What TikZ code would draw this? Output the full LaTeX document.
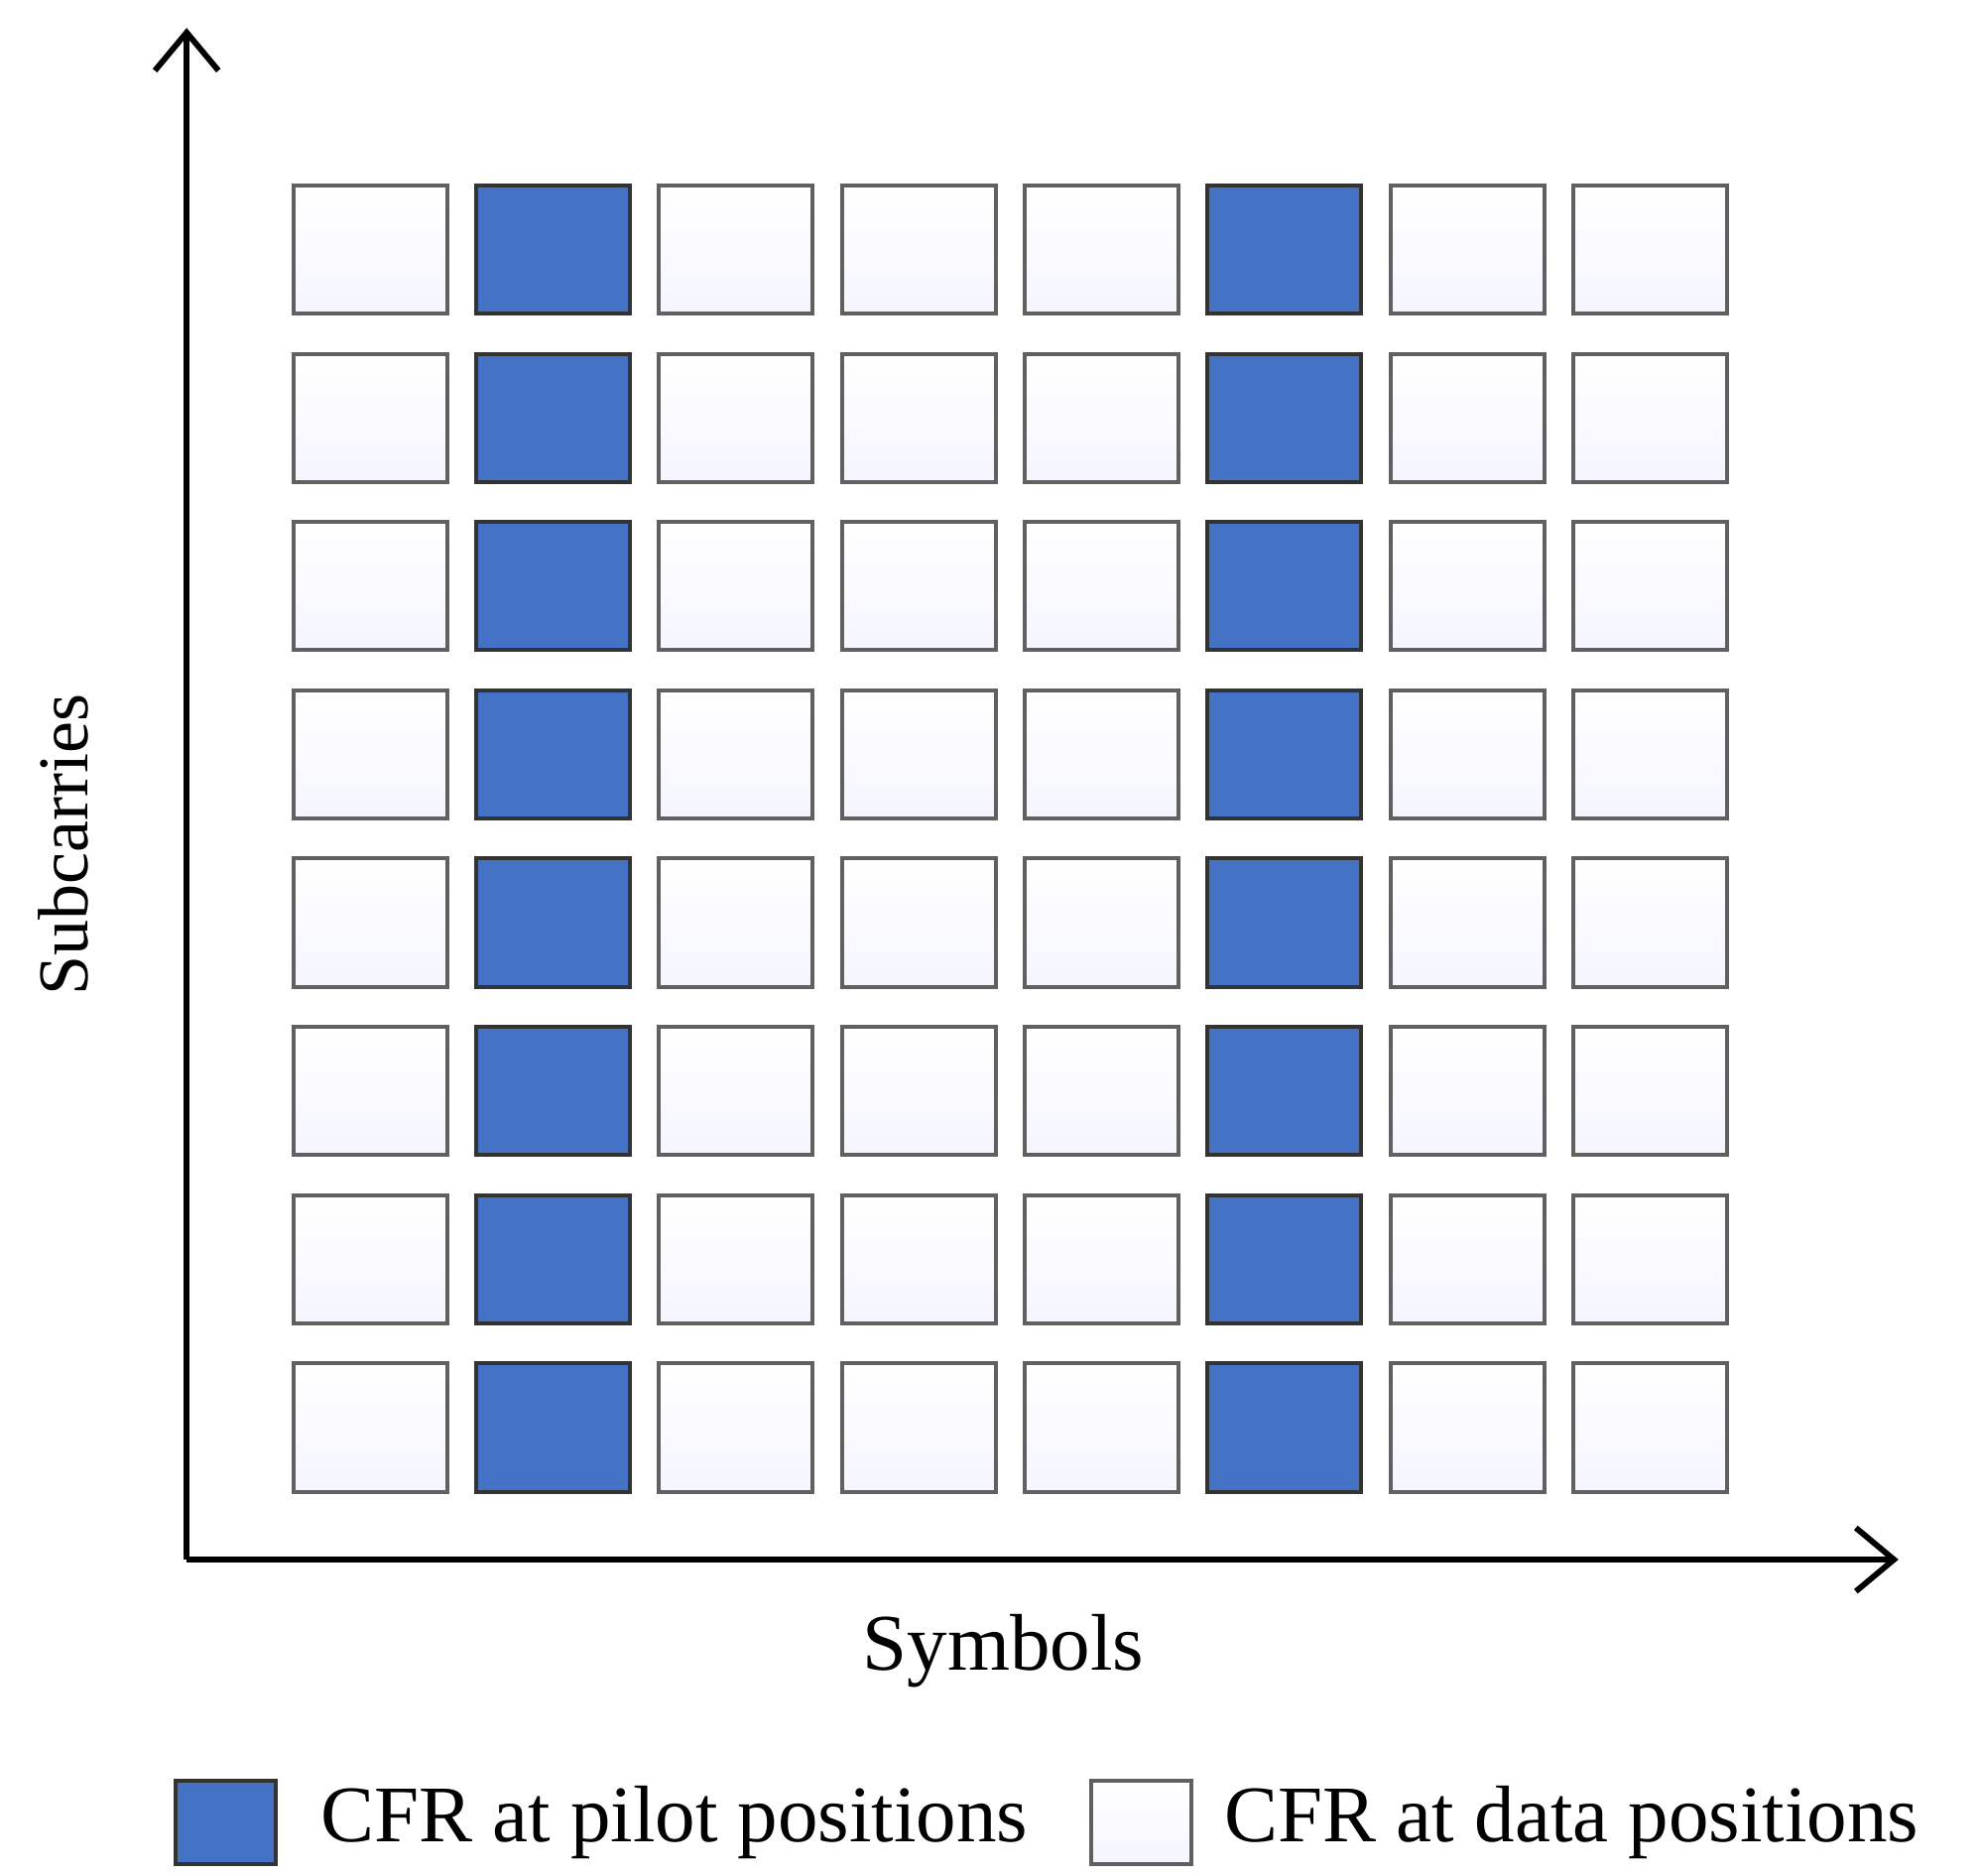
\documentclass[tikz,border=0pt]{standalone}
\usepackage{fontspec}
\setmainfont{Liberation Serif}
\usetikzlibrary{arrows.meta,positioning}
\definecolor{pilotblue}{RGB}{68,114,196}
\tikzset{
  cell/.style={draw=gray!75!black,line width=0.9pt,minimum width=1.21cm,minimum height=1.01cm,inner sep=0pt},
  data/.style={cell,top color=white,bottom color=blue!4},
  pilot/.style={cell,draw=black!80,fill=pilotblue},
  axis/.style={line width=1.3pt,-{Straight Barb[length=3mm,width=5mm]}},
  lbl/.style={font=\fontsize{18}{20}\selectfont}
}
\begin{document}
\begin{tikzpicture}
  \useasboundingbox (0,0) rectangle (15.6,-14.77);
  % resource grid
  \foreach \r in {0,...,7}{
    \foreach \c in {0,...,7}{
      \ifnum\c=1 \def\kind{pilot}\else\ifnum\c=5 \def\kind{pilot}\else\def\kind{data}\fi\fi
      \node[\kind] (g\r\c) at ({2.915+1.44*\c},{-1.965-1.325*\r}) {};
    }
  }
  % axes
  \coordinate (o) at (1.47,-12.28);
  \coordinate (ytop) at (1.47,-0.22);
  \coordinate (xend) at (14.95,-12.28);
  \draw[axis] (o) -- (ytop);
  \draw[axis] (o) -- (xend);
  \node[lbl] (xlab) at (7.9,-13.0) {Symbols};
  \node[font=\fontsize{16}{18}\selectfont,rotate=90] (ylab) at (0.5,-6.65) {Subcarries};
  % legend
  \node[pilot,minimum width=0.79cm,minimum height=0.66cm] (legp) at (1.775,-14.35) {};
  \node[lbl,anchor=west] (legpt) at (2.4,-14.35) {CFR at pilot positions};
  \node[data,minimum width=0.79cm,minimum height=0.66cm] (legd) at (8.985,-14.35) {};
  \node[lbl,anchor=west] (legdt) at (9.52,-14.35) {CFR at data positions};
\end{tikzpicture}
\end{document}
